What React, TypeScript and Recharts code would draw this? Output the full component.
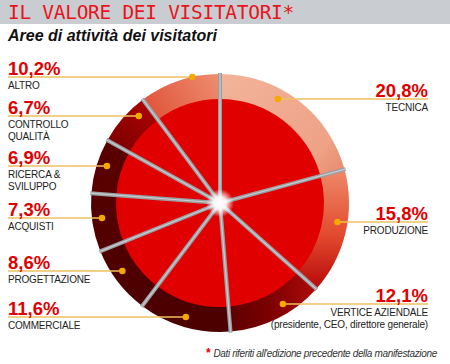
import React from 'react';
import { PieChart, Pie, Cell } from 'recharts';

// clockwise from 12 o'clock
const categories = [
  'TECNICA',
  'PRODUZIONE',
  'VERTICE AZIENDALE',
  'COMMERCIALE',
  'PROGETTAZIONE',
  'ACQUISTI',
  'RICERCA & SVILUPPO',
  'CONTROLLO QUALITÀ',
  'ALTRO',
];
const shares = [20.8, 15.8, 12.1, 11.6, 8.6, 7.3, 6.9, 6.7, 10.2];
const shareLabels = ['20,8%', '15,8%', '12,1%', '11,6%', '8,6%', '7,3%', '6,9%', '6,7%', '10,2%'];
const nameLines = [
  ['TECNICA'],
  ['PRODUZIONE'],
  ['VERTICE AZIENDALE', '(presidente, CEO, direttore generale)'],
  ['COMMERCIALE'],
  ['PROGETTAZIONE'],
  ['ACQUISTI'],
  ['RICERCA &', 'SVILUPPO'],
  ['CONTROLLO', 'QUALITÀ'],
  ['ALTRO'],
];

// annotation placement (side + y of the leader line)
const labelSide = ['right', 'right', 'right', 'left', 'left', 'left', 'left', 'left', 'left'];
const labelLineY = [99, 222, 304, 317, 271, 218, 166, 116, 77];

const ringFills = [
  'url(#gTecnica)',
  'url(#gProduzione)',
  'url(#gVertice)',
  '#4c0000',
  '#4e0000',
  '#520000',
  '#580000',
  'url(#gControllo)',
  'url(#gAltro)',
];

const data = categories.map((name, i) => ({ name, value: shares[i] }));

const CX = 215;
const CY = 198;
const R_OUT = 129;
const R_IN = 104;
const DOT_R = 119;
const LEFT_X = 8;
const RIGHT_X = 428;
const RAD = Math.PI / 180;

const total = shares.reduce((a, b) => a + b, 0);
const startAngles = shares.map((_, i) => 90 - (360 * shares.slice(0, i).reduce((a, b) => a + b, 0)) / total);

const polar = (cx: number, cy: number, r: number, a: number) => ({
  x: cx + r * Math.cos(-a * RAD),
  y: cy + r * Math.sin(-a * RAD),
});

const FONT = '"Liberation Sans", Arial, sans-serif';

const renderAnnotation = (props: any) => {
  const { cx, cy, index } = props;
  const edge = polar(cx, cy, R_OUT + 1, startAngles[index]);
  const side = labelSide[index];
  const ly = labelLineY[index];
  const dy = ly - cy;
  const r = Math.max(DOT_R, Math.abs(dy) + 3);
  const dx = Math.sqrt(r * r - dy * dy);
  const dotX = side === 'left' ? cx - dx : cx + dx;
  const tx = side === 'left' ? LEFT_X : RIGHT_X;
  const anchor = side === 'left' ? 'start' : 'end';
  return (
    <g key={`ann-${index}`}>
      <line x1={cx} y1={cy} x2={edge.x} y2={edge.y} stroke="#9a9ea2" strokeWidth={4} />
      <line x1={cx} y1={cy} x2={edge.x} y2={edge.y} stroke="#c9cdd0" strokeWidth={1.2} />
      {index === categories.length - 1 && (
        <circle cx={cx} cy={cy} r={14} fill="url(#gGlow)" />
      )}
      <line x1={side === 'left' ? LEFT_X : dotX} y1={ly} x2={side === 'left' ? dotX : RIGHT_X} y2={ly} stroke="#efc060" strokeWidth={1.3} />
      <circle cx={dotX} cy={ly} r={3.3} fill="#f5a800" />
      <text x={tx} y={ly - 2.5} textAnchor={anchor} fill="#e00000" fontSize={18.5} fontWeight="bold" fontFamily={FONT}>
        {shareLabels[index]}
      </text>
      {nameLines[index].map((t, k) => (
        <text key={k} x={tx} y={ly + 11.5 + k * 12} textAnchor={anchor} fill="#222" fontSize={10} fontFamily={FONT} letterSpacing={-0.2}>
          {t}
        </text>
      ))}
    </g>
  );
};

export default function App() {
  return (
    <div style={{ position: 'absolute', left: 0, top: 0, width: 450, height: 364, background: '#fff', overflow: 'hidden' }}>
      <div
        style={{
          position: 'absolute',
          left: 0,
          top: 0,
          width: 450,
          height: 24,
          background: '#c9cdd1',
        }}
      />
      <div
        style={{
          position: 'absolute',
          left: 8,
          top: 1,
          fontFamily: '"DejaVu Sans Mono", monospace',
          fontSize: 19.5,
          lineHeight: '24px',
          color: '#e8141c',
          letterSpacing: -0.3,
        }}
      >
        IL VALORE DEI VISITATORI*
      </div>
      <div
        style={{
          position: 'absolute',
          left: 8,
          top: 26,
          fontFamily: FONT,
          fontSize: 16,
          fontWeight: 'bold',
          fontStyle: 'italic',
          color: '#111',
          lineHeight: '20px',
        }}
      >
        Aree di attività dei visitatori
      </div>
      <PieChart width={450} height={364} style={{ position: 'absolute', left: 0, top: 0 }}>
        <defs>
          <linearGradient id="gTecnica" x1="0" y1="0" x2="1" y2="1">
            <stop offset="0%" stopColor="#f2b49a" />
            <stop offset="70%" stopColor="#eea286" />
            <stop offset="100%" stopColor="#e4795c" />
          </linearGradient>
          <linearGradient id="gProduzione" x1="0" y1="0" x2="0" y2="1">
            <stop offset="0%" stopColor="#ee8a6a" />
            <stop offset="55%" stopColor="#e24a2e" />
            <stop offset="100%" stopColor="#b80808" />
          </linearGradient>
          <linearGradient id="gVertice" x1="1" y1="0" x2="0" y2="0">
            <stop offset="0%" stopColor="#b00a0a" />
            <stop offset="50%" stopColor="#7a0000" />
            <stop offset="100%" stopColor="#560000" />
          </linearGradient>
          <linearGradient id="gControllo" x1="1" y1="0" x2="0" y2="1">
            <stop offset="0%" stopColor="#d80a0a" />
            <stop offset="60%" stopColor="#8a0000" />
            <stop offset="100%" stopColor="#5a0000" />
          </linearGradient>
          <linearGradient id="gAltro" x1="0" y1="1" x2="1" y2="0">
            <stop offset="0%" stopColor="#d83018" />
            <stop offset="100%" stopColor="#ee8e70" />
          </linearGradient>
          <radialGradient id="gGlow">
            <stop offset="0%" stopColor="#ffffff" stopOpacity={1} />
            <stop offset="45%" stopColor="#ffffff" stopOpacity={0.9} />
            <stop offset="100%" stopColor="#ffffff" stopOpacity={0} />
          </radialGradient>
        </defs>
        <Pie
          data={data}
          dataKey="value"
          nameKey="name"
          cx={CX}
          cy={CY}
          innerRadius={0}
          outerRadius={R_OUT}
          startAngle={90}
          endAngle={-270}
          stroke="none"
          isAnimationActive={false}
        >
          {data.map((d, i) => (
            <Cell key={d.name} fill={ringFills[i]} />
          ))}
        </Pie>
        <Pie
          data={data}
          dataKey="value"
          nameKey="name"
          cx={CX}
          cy={CY}
          innerRadius={0}
          outerRadius={R_IN}
          startAngle={90}
          endAngle={-270}
          stroke="none"
          fill="#e10000"
          label={renderAnnotation}
          labelLine={false}
          isAnimationActive={false}
        />
      </PieChart>
      <div
        style={{
          position: 'absolute',
          left: 206,
          top: 346,
          fontFamily: FONT,
          fontSize: 10,
          lineHeight: '14px',
          color: '#333',
          whiteSpace: 'nowrap',
        }}
      >
        <span style={{ color: '#e00000', fontWeight: 'bold', fontSize: 12, fontStyle: 'normal' }}>*</span>{' '}
        <span style={{ fontStyle: 'italic', letterSpacing: -0.35 }}>Dati riferiti all'edizione precedente della manifestazione</span>
      </div>
    </div>
  );
}
